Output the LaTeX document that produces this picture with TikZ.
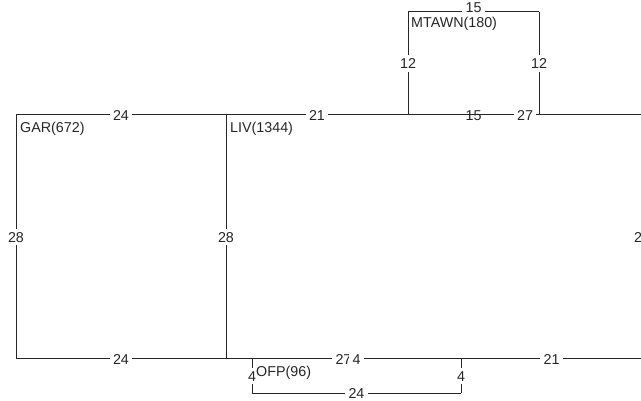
\documentclass[tikz,border=0pt]{standalone}
\usepackage{fontspec}
\setmainfont{Liberation Sans}

\begin{document}
\begin{tikzpicture}[
  x=1pt, y=-1pt,
  track/.style={draw=black!85, line width=1pt},
  dist/.style={fill=white, text=black!85, font=\fontsize{14.3}{15}\selectfont, inner xsep=3.5pt, inner ysep=3pt, text height=10.2pt, text depth=0pt},
  station/.style={anchor=base west, inner sep=0pt, text=black!85, font=\fontsize{14.3}{15}\selectfont}
]
\useasboundingbox (0,0) rectangle (641,401);
\clip (0,0) rectangle (641,401);

% junctions
\coordinate (gar)   at (16,115);
\coordinate (liv)   at (226,115);
\coordinate (mtl)   at (408,115);
\coordinate (mtr)   at (539,115);
\coordinate (tend)  at (642,115);
\coordinate (mtlt)  at (408,12);
\coordinate (mtrt)  at (539,12);
\coordinate (garb)  at (16,359);
\coordinate (livb)  at (226,359);
\coordinate (ofpl)  at (252,359);
\coordinate (ofpr)  at (461,359);
\coordinate (bend)  at (642,359);
\coordinate (ofplb) at (252,393);
\coordinate (ofprb) at (461,393);

% top
\draw[track] (gar) -- node[dist] {24} (liv);
\draw[track] (liv) -- node[dist] {21} (mtl);
\draw[track] (mtl) -- node[dist] {15} (mtr);
\draw[track] (mtl) -- node[dist] {27} (tend);
\draw[track] (mtl) -- node[dist] {12} (mtlt);
\draw[track] (mtr) -- node[dist] {12} (mtrt);
\draw[track] (mtlt) -- node[dist, yshift=5pt] {15} (mtrt);

% sides
\draw[track] (gar) -- node[dist] {28} (garb);
\draw[track] (liv) -- node[dist] {28} (livb);
\draw[track] (tend) -- node[dist] {28} (bend);

% bottom
\draw[track] (garb) -- node[dist] {24} (livb);
\draw[track] (livb) -- node[dist] {27} (ofpr);
\path (ofpl) -- node[dist] {4} (ofpr);
\draw[track] (ofpr) -- node[dist] {21} (bend);
\draw[track] (ofpl) -- node[dist] {4} (ofplb);
\draw[track] (ofpr) -- node[dist] {4} (ofprb);
\draw[track] (ofplb) -- node[dist] {24} (ofprb);

% stations
\node[station] (GAR) at (20,133) {GAR(672)};
\node[station] (LIV) at (230,133) {LIV(1344)};
\node[station] (MTAWN) at (411,28) {MTAWN(180)};
\node[station] (OFP) at (256,377) {OFP(96)};
\end{tikzpicture}
\end{document}
